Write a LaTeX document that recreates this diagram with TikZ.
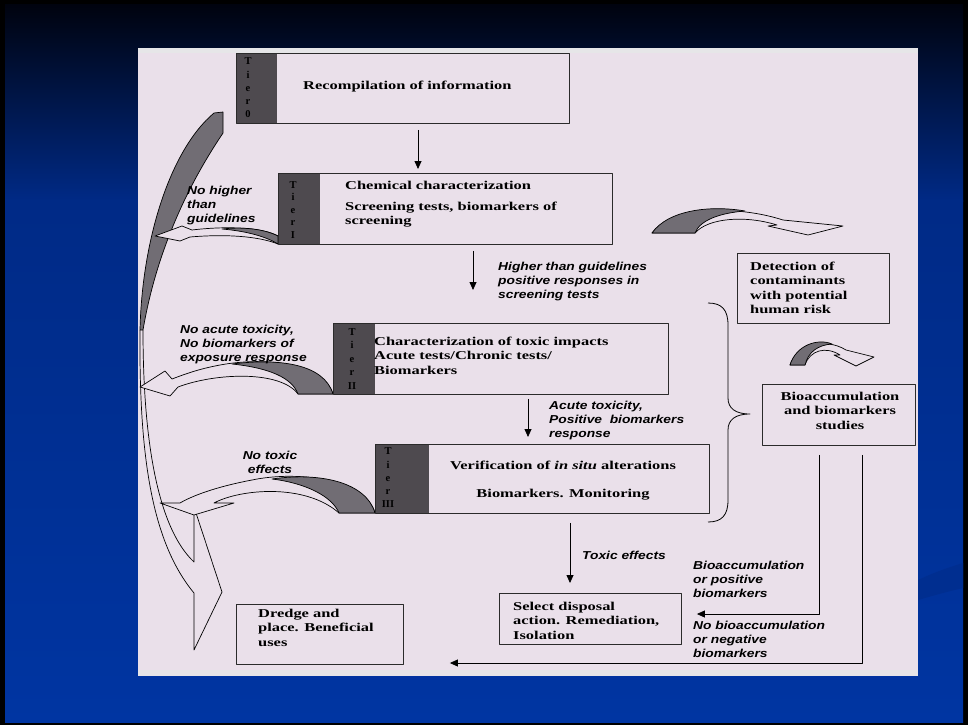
\documentclass[tikz,border=0pt]{standalone}
\usepackage{fontspec}
\setmainfont{Liberation Serif}
\newfontfamily\serifb{Liberation Serif}[FakeStretch=1.37]
\newfontfamily\sansb{Liberation Sans}[FakeStretch=1.2]
\newfontfamily\tierf{Liberation Serif}
\usetikzlibrary{arrows.meta}
\definecolor{panel}{HTML}{EAE0EA}
\definecolor{panelstrip}{HTML}{E6E6E8}
\definecolor{stripc}{HTML}{4E4A4F}
\definecolor{arrgray}{HTML}{716D74}
\definecolor{bgtop}{HTML}{00030F}
\definecolor{bgmid}{HTML}{002A86}
\definecolor{bgbot}{HTML}{0035A2}
\definecolor{bgswoosh}{HTML}{002E90}
\definecolor{edge}{HTML}{2B2B2B}
\begin{document}
\begin{tikzpicture}[x=1pt,y=-1pt,line join=round,
  box/.style={draw=edge,line width=0.9pt,rectangle,inner sep=0pt,anchor=north west},
  tier/.style={font=\tierf\bfseries\fontsize{10.5}{#1}\selectfont,align=center,inner sep=0pt,anchor=north},
  btxt/.style={font=\serifb\bfseries\fontsize{12}{14.5}\selectfont,inner sep=0pt,anchor=north west,align=left},
  btxc/.style={font=\serifb\bfseries\fontsize{12}{14.5}\selectfont,inner sep=0pt,anchor=north,align=center},
  itx/.style={font=\sansb\bfseries\itshape\fontsize{11.5}{14}\selectfont,inner sep=0pt,anchor=north west,align=left},
  itxc/.style={font=\sansb\bfseries\itshape\fontsize{11.5}{14}\selectfont,inner sep=0pt,anchor=north,align=center},
  arr/.style={draw=black,line width=0.8pt,-{Triangle[width=7pt,length=8pt]}},
  blk/.style={draw=black,line width=0.7pt,fill=panel},
  blkg/.style={draw=black,line width=0.7pt,fill=arrgray},
  thin/.style={draw=black,line width=0.7pt}]
\useasboundingbox (0,0) rectangle (968,725);
% background
\fill[black] (0,0) rectangle (968,725);
\shade[top color=bgtop,bottom color=bgmid] (5,5) rectangle (963,201);
\shade[top color=bgmid,bottom color=bgbot] (5,200) rectangle (963,722);
\fill[bgswoosh] (918,580) .. controls (935,572) and (950,567) .. (963,563) -- (963,588) .. controls (950,591) and (935,595) .. (918,600) -- cycle;
% panel
\fill[panel] (138,48) rectangle (918,676);
\fill[panelstrip] (138,48) rectangle (918,53);
\fill[panelstrip] (138,670) rectangle (918,676);

% big left arrow
\draw[blkg] (214,113) -- (223,112) -- (223,133) .. controls (205,160) and (160,230) .. (143,330) -- (140,330) .. controls (142,240) and (170,150) .. (214,113) -- cycle;
\draw[thin] (140,330) .. controls (139,450) and (150,540) .. (194,593) -- (194,650) -- (222,592) -- (196,513);
\draw[thin] (143,330) .. controls (143,450) and (160,530) .. (194,562) -- (194,514);

% Tier I side arrow
\draw[blk] (278,236) .. controls (262,227) and (225,226) .. (192,230) -- (182,226) -- (155,236) -- (180,241) -- (190,237) .. controls (225,234) and (258,236) .. (278,244) -- cycle;
\draw[blkg] (278,236) .. controls (262,228) and (240,227) .. (222,229) .. controls (245,231) and (265,236) .. (278,244) -- cycle;
% Tier II side arrow
\draw[blk] (333,394) .. controls (323,362) and (262,356) .. (215,366) .. controls (195,370) and (180,376) .. (172,379) -- (165,371) -- (140,387) -- (170,396) -- (178,387) .. controls (215,373) and (280,370) .. (298,394) -- cycle;
\draw[blkg] (333,394) .. controls (324,364) and (280,358) .. (232,364) .. controls (270,368) and (292,378) .. (298,394) -- cycle;
% Tier III side arrow
\draw[blk] (375,513) .. controls (366,480) and (300,470) .. (252,480) .. controls (215,487) and (192,496) .. (180,503) -- (160,503) -- (194,515) -- (234,503) -- (214,503) .. controls (240,489) and (305,483) .. (339,513) -- cycle;
\draw[blkg] (375,513) .. controls (366,482) and (320,472) .. (272,479) .. controls (305,483) and (332,496) .. (339,513) -- cycle;
% top right curved arrow
\draw[blk] (652,233) .. controls (668,210) and (730,203) .. (783,220) -- (843,226) -- (808,235) -- (768,226) -- (777,225) .. controls (745,215) and (708,218) .. (695,233) -- cycle;
\draw[blkg] (652,233) .. controls (668,210) and (710,205) .. (745,211) .. controls (720,213) and (700,220) .. (695,233) -- cycle;
% small curved arrow
\draw[blk] (790,365) .. controls (796,345) and (825,337) .. (846,350) -- (874,357) -- (856,366) -- (834,355) -- (840,355) .. controls (826,346) and (810,350) .. (805,365) -- cycle;
\draw[blkg] (790,365) .. controls (796,345) and (818,338) .. (832,344) .. controls (818,345) and (808,352) .. (805,365) -- cycle;

% tier boxes
\fill[stripc] (236,53) rectangle (277,123);
\node[box,minimum width=333pt,minimum height=70pt] (t0) at (236,53) {};
\fill[stripc] (278,173) rectangle (320,244);
\node[box,minimum width=334pt,minimum height=71pt] (t1) at (278,173) {};
\fill[stripc] (333,323) rectangle (375,394);
\node[box,minimum width=335pt,minimum height=71pt] (t2) at (333,323) {};
\fill[stripc] (375,444) rectangle (429,513);
\node[box,minimum width=334pt,minimum height=69pt] (t3) at (375,444) {};
\node[box,minimum width=152pt,minimum height=70pt] (det) at (737,253) {};
\node[box,minimum width=153pt,minimum height=61pt] (bio) at (762,384) {};
\node[box,minimum width=182pt,minimum height=51pt] (sel) at (499,593) {};
\node[box,minimum width=167pt,minimum height=60pt] (dre) at (236,604) {};

% tier letters
\node[tier=13.25] (l0) at (248,55.5) {\strut T\\i\\e\\r\\0};
\node[tier=12.5] (l1) at (293,179.5) {\strut T\\i\\e\\r\\I};
\node[tier=13.5] (l2) at (352,325.5) {\strut T\\i\\e\\r\\II};
\node[tier=13.25] (l3) at (388,445.5) {\strut T\\i\\e\\r\\III};

% box texts
\node[btxt] (x0) at (303,79) {\strut Recompilation of information};
\node[btxt] (x1a) at (345,179) {\strut Chemical characterization};
\node[btxt] (x1b) at (345,200) {\strut Screening tests, biomarkers of\\screening};
\node[btxt] (x2) at (374,335) {\strut Characterization of toxic impacts\\Acute tests/Chronic tests/\\Biomarkers};
\node[btxc] (x3a) at (563,459) {\strut Verification of {\itshape in situ} alterations};
\node[btxc] (x3b) at (563,487) {\strut Biomarkers. Monitoring};
\node[btxt] (xd) at (750,260) {\strut Detection of\\contaminants\\with potential\\human risk};
\node[btxc] (xb) at (840,390) {\strut Bioaccumulation\\and biomarkers\\studies};
\node[btxt] (xs) at (513,600) {\strut Select disposal\\action. Remediation,\\Isolation};
\node[btxt] (xr) at (258,607) {\strut Dredge and\\place. Beneficial\\uses};

% italic labels
\node[itx] (n1) at (187,184) {\strut No higher\\than\\guidelines};
\node[itx] (n2) at (498,260) {\strut Higher than guidelines\\positive responses in\\screening tests};
\node[itx] (n3) at (180,323) {\strut No acute toxicity,\\No biomarkers of\\exposure response};
\node[itx] (n4) at (549,399) {\strut Acute toxicity,\\Positive\ \ biomarkers\\response};
\node[itxc] (n5) at (270,449) {\strut No toxic\\effects};
\node[itx] (n6) at (582,549) {\strut Toxic effects};
\node[itx] (n7) at (693,559) {\strut Bioaccumulation\\or positive\\biomarkers};
\node[itx] (n8) at (693,619) {\strut No bioaccumulation\\or negative\\biomarkers};

% connectors
\coordinate (c01) at (418,0);
\coordinate (c12) at (473,0);
\coordinate (c23) at (528,0);
\coordinate (c3s) at (570,0);
\coordinate (cb1) at (819,614);
\coordinate (cb2) at (862,663);
\draw[arr,shorten <=6pt,shorten >=4pt] (t0.south -| c01) -- (t1.north -| c01);
\draw[arr,shorten <=6pt,shorten >=33pt] (t1.south -| c12) -- (t2.north -| c12);
\draw[arr,shorten <=4pt,shorten >=7pt] (t2.south -| c23) -- (t3.north -| c23);
\draw[arr,shorten <=9pt,shorten >=10pt] (t3.south -| c3s) -- (sel.north -| c3s);
\draw[arr,shorten <=9pt,shorten >=15pt] (bio.south -| cb1) |- (sel.east |- cb1);
\draw[arr,shorten <=9pt,shorten >=46pt] (bio.south -| cb2) |- (dre.east |- cb2);

% brace
\draw[thin,line width=0.8pt] (708,303) .. controls (722,303) and (728,310) .. (728,325) -- (728,398) .. controls (728,408) and (735,414) .. (750,414) .. controls (735,414) and (728,420) .. (728,430) -- (728,500) .. controls (728,515) and (722,522) .. (708,522);
\end{tikzpicture}
\end{document}
